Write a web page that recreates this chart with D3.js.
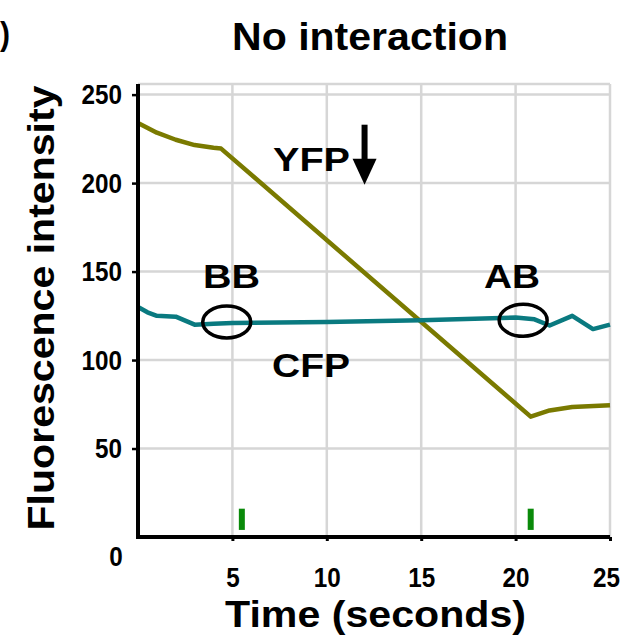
<!DOCTYPE html>
<html>
<head>
<meta charset="utf-8">
<script src="https://cdn.jsdelivr.net/npm/d3@7"></script>
<style>
  body { margin: 0; background: #fff; }
  svg { display: block; }
  text { font-family: "Liberation Sans", Arial, sans-serif; fill: #000; }
</style>
</head>
<body>
<div id="chart-container"></div>
<script>
// Fluorescence traces, no interaction case

var yfpSeries = [[0, 234], [1, 228.5], [2, 224.5], [3, 221.5], [4, 220], [4.4, 219.5],
                 [20.8, 68], [21.8, 71.5], [23, 73.5], [25, 74.5]]
var cfpSeries = [[0, 130], [0.5, 127], [1, 125], [2, 124.5], [3, 120], [4, 120.5], [5, 121],
                 [10, 121.5], [15, 122.5], [20, 124], [21, 123], [21.8, 119.5], [23, 125],
                 [24.1, 117.5], [25, 120]]
var xTicks = [5, 10, 15, 20, 25]
var yTicks = [50, 100, 150, 200, 250]
var circleMarks = [{name: 'BB', t: 4.7, v: 121.5}, {name: 'AB', t: 20.4, v: 122.5}]
var greenMarks = [5.5, 20.8]
var arrowMark = {t: 12, from: 233, to: 199}

class fretChart {

    constructor() {
        this.width = 626;
        this.height = 637;
        this.margin = ({top: 84, right: 16, bottom: 100, left: 138})
    }

    updateFunctions() {
        this.x = d3.scaleLinear()
            .domain([0, 25])
            .range([this.margin.left, this.width - this.margin.right])

        this.y = d3.scaleLinear()
            .domain([0, 256])
            .range([this.height - this.margin.bottom, this.margin.top])

        this.line = d3.line()
            .x(d => this.x(d[0]))
            .y(d => this.y(d[1]))

        return this;
    }

    makePlot() {
        let x = this.x, y = this.y;
        let x0 = x(0), x1 = x(25), y0 = y(0), yTop = this.margin.top;

        let svg = d3.select('#chart-container')
                    .append('svg')
                    .attr("width", this.width)
                    .attr("height", this.height)

        // grid
        let grid = svg.append("g")
            .attr("stroke", "#d6d6d6")
            .attr("stroke-width", 2.5)

        grid.selectAll(".hgrid")
            .data(yTicks)
            .join("line")
            .attr("x1", x0).attr("x2", x1)
            .attr("y1", d => y(d)).attr("y2", d => y(d))

        grid.selectAll(".vgrid")
            .data(xTicks)
            .join("line")
            .attr("x1", d => x(d)).attr("x2", d => x(d))
            .attr("y1", yTop).attr("y2", y0)

        grid.append("line")
            .attr("x1", x0).attr("x2", x1)
            .attr("y1", yTop).attr("y2", yTop)

        // green markers
        svg.append("g")
            .selectAll("line")
            .data(greenMarks)
            .join("line")
            .attr("x1", d => x(d)).attr("x2", d => x(d))
            .attr("y1", y(4)).attr("y2", y(16))
            .attr("stroke", "#0a8a0a")
            .attr("stroke-width", 6)

        // traces
        svg.append("path")
            .datum(yfpSeries)
            .attr("fill", "none")
            .attr("stroke", "#7a7a00")
            .attr("stroke-width", 4.5)
            .attr("stroke-linejoin", "round")
            .attr("d", this.line)

        svg.append("path")
            .datum(cfpSeries)
            .attr("fill", "none")
            .attr("stroke", "#0a7a80")
            .attr("stroke-width", 4.5)
            .attr("stroke-linejoin", "round")
            .attr("d", this.line)

        // axes
        let yAxis = svg.append("g")
            .attr("transform", `translate(${x0},0)`)
            .call(d3.axisLeft(y).tickValues(yTicks).tickSize(6).tickPadding(10))
        yAxis.select(".domain").remove()
        yAxis.selectAll(".tick line").attr("stroke-width", 2.5)
        yAxis.selectAll(".tick text")
            .attr("font-size", 28)
            .attr("font-weight", "bold")
            .attr("font-family", "Liberation Sans, Arial, sans-serif")
            .attr("textLength", d => String(d).length * 13.5)
            .attr("lengthAdjust", "spacingAndGlyphs")

        let xAxis = svg.append("g")
            .attr("transform", `translate(0,${y0})`)
            .call(d3.axisBottom(x).tickValues(xTicks).tickSize(4).tickPadding(26))
        xAxis.select(".domain").remove()
        xAxis.selectAll(".tick line").attr("stroke-width", 3)
        xAxis.selectAll(".tick text")
            .attr("font-size", 28)
            .attr("font-weight", "bold")
            .attr("font-family", "Liberation Sans, Arial, sans-serif")
            .attr("textLength", d => String(d).length * 13.5)
            .attr("lengthAdjust", "spacingAndGlyphs")
            .attr("dx", d => d === 25 ? -4 : 0)

        svg.append("line")
            .attr("x1", x0).attr("x2", x0)
            .attr("y1", yTop).attr("y2", y0 + 2)
            .attr("stroke", "#000").attr("stroke-width", 4)

        svg.append("line")
            .attr("x1", x0 - 2).attr("x2", x1)
            .attr("y1", y0).attr("y2", y0)
            .attr("stroke", "#000").attr("stroke-width", 4)

        svg.append("text")
            .attr("x", x0 - 22).attr("y", y0 + 29)
            .attr("text-anchor", "middle")
            .attr("font-size", 28)
            .attr("font-weight", "bold")
            .attr("textLength", 13.5)
            .attr("lengthAdjust", "spacingAndGlyphs")
            .text("0")

        // ellipses
        svg.append("g")
            .selectAll("ellipse")
            .data(circleMarks)
            .join("ellipse")
            .attr("cx", d => x(d.t))
            .attr("cy", d => y(d.v))
            .attr("rx", 24)
            .attr("ry", 16)
            .attr("fill", "none")
            .attr("stroke", "#000")
            .attr("stroke-width", 3.5)

        // arrow
        svg.append("line")
            .attr("x1", x(arrowMark.t)).attr("x2", x(arrowMark.t))
            .attr("y1", y(arrowMark.from)).attr("y2", y(arrowMark.to) - 20)
            .attr("stroke", "#000").attr("stroke-width", 6)
        svg.append("path")
            .attr("d", `M${x(arrowMark.t) - 12},${y(arrowMark.to) - 26} L${x(arrowMark.t) + 12},${y(arrowMark.to) - 26} L${x(arrowMark.t)},${y(arrowMark.to)} Z`)
            .attr("fill", "#000")

        // labels
        let lab = (txt, px, py, len, size) => svg.append("text")
            .attr("x", px).attr("y", py)
            .attr("font-size", size).attr("font-weight", "bold")
            .attr("textLength", len).attr("lengthAdjust", "spacingAndGlyphs")
            .text(txt)

        lab("YFP", 273, 171, 77, 34)
        lab("BB", 203, 288, 57, 34)
        lab("AB", 484, 288, 56, 34)
        lab("CFP", 272, 377, 78, 34)
        lab("No interaction", 232, 50, 276, 38)
        lab("Time (seconds)", 225, 627, 301, 37)
        lab(")", 0, 45, 10, 34)

        svg.append("text")
            .attr("transform", "translate(54,308) rotate(-90)")
            .attr("text-anchor", "middle")
            .attr("font-size", 36).attr("font-weight", "bold")
            .attr("textLength", 445).attr("lengthAdjust", "spacingAndGlyphs")
            .text("Fluorescence intensity")
    }
}

let chart = new fretChart();
chart.updateFunctions().makePlot();
</script>
</body>
</html>
